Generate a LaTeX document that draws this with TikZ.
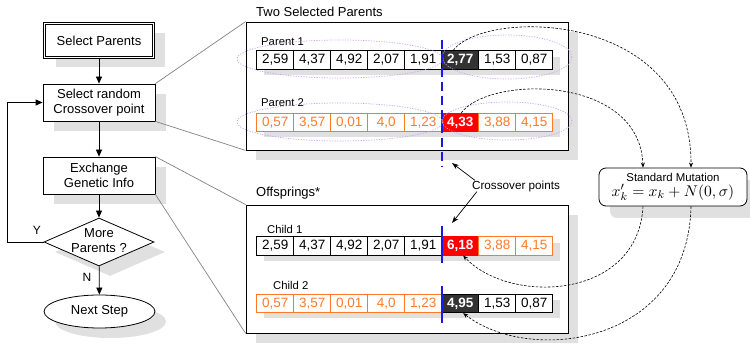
\documentclass[tikz,border=0pt]{standalone}
\usepackage[no-math]{fontspec}
\setmainfont{Liberation Sans}
\usetikzlibrary{shapes.geometric,shadows,arrows.meta,calc}

\definecolor{shgray}{RGB}{224,224,224}
\definecolor{orng}{RGB}{255,122,40}
\definecolor{dkcell}{RGB}{51,51,51}
\definecolor{ellc}{RGB}{200,160,245}
\definecolor{xblue}{RGB}{25,25,235}
\definecolor{lgray}{RGB}{130,130,130}

\tikzset{
  shd/.style={drop shadow={shadow xshift=11pt,shadow yshift=-10pt,fill=shgray,opacity=1}},
  fbox/.style={draw,line width=0.8pt,fill=white,minimum width=112pt,minimum height=37pt,
    inner sep=1pt,align=center,font=\fontsize{13}{15}\selectfont,shd},
  dbox/.style={fbox,double,double distance=1.4pt,line width=0.7pt,minimum width=109pt,minimum height=34pt},
  dia/.style={diamond,draw,line width=0.8pt,fill=white,minimum width=110pt,minimum height=48pt,inner sep=0pt,shd},
  term/.style={ellipse,draw,line width=0.8pt,fill=white,minimum width=111pt,minimum height=33pt,
    font=\fontsize{13}{15}\selectfont,shd},
  arr/.style={-{Triangle[length=7pt,width=6pt]},line width=0.8pt},
  txt/.style={inner sep=0pt,font=\fontsize{12}{14}\selectfont},
  title/.style={inner sep=0pt,anchor=west,font=\fontsize{13}{15}\selectfont},
  rowlab/.style={inner sep=0pt,anchor=west,font=\fontsize{11.3}{13}\selectfont},
  panel/.style={draw,line width=0.8pt,fill=white,minimum width=322pt,minimum height=128pt,
    drop shadow={shadow xshift=10pt,shadow yshift=-10pt,fill=shgray,opacity=1}},
  gline/.style={draw=lgray,line width=0.7pt},
  rowshadow/.style={fill=shgray},
  cell/.style={draw,line width=0.8pt,fill=white,minimum width=37pt,minimum height=18.5pt,
    inner sep=0pt,font=\fontsize{13.5}{15}\selectfont},
  cblk/.style={draw=black,text=black},
  corg/.style={draw=orng,text=orng},
  cdrk/.style={fill=dkcell,draw=black,text=white,font=\fontsize{13.5}{15}\selectfont\bfseries},
  cred/.style={fill=red,draw=red,text=white,font=\fontsize{13.5}{15}\selectfont\bfseries},
  ell/.style={draw=ellc,line width=0.7pt,dash pattern=on 1.2pt off 1.4pt},
  xdash/.style={draw=xblue,line width=1.6pt,dash pattern=on 9pt off 5pt},
  xline/.style={draw=xblue,line width=1.6pt},
  mutbox/.style={draw,line width=0.8pt,fill=white,rounded corners=7pt,minimum width=148pt,
    minimum height=38pt,align=center,inner sep=1pt,font=\fontsize{11.4}{13}\selectfont,
    drop shadow={shadow xshift=11pt,shadow yshift=-12pt,fill=shgray,opacity=1}},
  mutarr/.style={line width=0.6pt,dash pattern=on 2.5pt off 1.5pt,-{Stealth[length=5pt,width=4pt]}},
  xarr/.style={line width=0.7pt,-{Stealth[length=7pt,width=5pt]}}
}

% one row of eight genes: name prefix, vertical centre, value/style list
\newcommand\generow[3]{%
  \foreach \v/\s [count=\i] in {#3}{%
    \node[cell,\s] (#1\i) at ({256.7+37*\i-18.5},#2) {\v};}}

\begin{document}
\begin{tikzpicture}[x=1pt,y=-1pt]
\useasboundingbox (0,0) rectangle (750,344);

% ---------------- flowchart ----------------
\node[dbox] (sp) at (99,40.5) {Select Parents};
\node[fbox] (sr) at (99,102.5) {Select random\\Crossover point};
\node[fbox] (ex) at (99,175.5) {Exchange\\Genetic Info};
\node[dia]  (dm) at (99,242) {};
\node[align=center,inner sep=0pt,font=\fontsize{13}{15}\selectfont] (dmt) at (99,241) {More\\Parents ?};
\node[term] (ns) at (99.5,311.5) {Next Step};

\draw[arr] (sp) -- (sr);
\draw[arr] (sr) -- (ex);
\draw[arr] (ex) -- (dm);
\draw[arr] (dm) -- (ns);
\coordinate (lp) at (7,242);
\draw[arr] (dm.west) -- (lp) |- (sr.west);
\node[txt] (ylab) at (37,230) {Y};
\node[txt] (nlab) at (87,277) {N};

% ---------------- panels ----------------
\node[panel] (pp) at (407,86) {};
\node[panel] (po) at (407,269) {};
\node[title] (tp) at (256,12) {Two Selected Parents};
\node[title] (to) at (256,193) {Offsprings*};

\draw[gline] (sr.north east) -- (pp.north west);
\draw[gline] (sr.south east) -- (pp.south west);
\draw[gline] (ex.north east) -- (po.north west);
\draw[gline] (ex.south east) -- (po.south west);

% row shadows
\fill[rowshadow] (263.7,57) rectangle (559.7,75.5);
\fill[rowshadow] (263.7,119) rectangle (559.7,137.5);
\fill[rowshadow] (263.7,243) rectangle (559.7,261.5);
\fill[rowshadow] (263.7,300) rectangle (559.7,318.5);

\node[rowlab] (l1) at (261,42) {Parent 1};
\node[rowlab] (l2) at (261,103) {Parent 2};
\node[rowlab] (l3) at (267,229) {Child 1};
\node[rowlab] (l4) at (273,285) {Child 2};

\generow{pa}{60}{2{,}59/cblk,4{,}37/cblk,4{,}92/cblk,2{,}07/cblk,1{,}91/cblk,2{,}77/cdrk,1{,}53/cblk,0{,}87/cblk}
\generow{pb}{122.5}{0{,}57/corg,3{,}57/corg,0{,}01/corg,4{,}0/corg,1{,}23/corg,4{,}33/cred,3{,}88/corg,4{,}15/corg}
\generow{ca}{246}{2{,}59/cblk,4{,}37/cblk,4{,}92/cblk,2{,}07/cblk,1{,}91/cblk,6{,}18/cred,3{,}88/corg,4{,}15/corg}
\generow{cb}{303.5}{0{,}57/corg,3{,}57/corg,0{,}01/corg,4{,}0/corg,1{,}23/corg,4{,}95/cdrk,1{,}53/cblk,0{,}87/cblk}

% gene groups around the crossover point
\draw[ell] (340,59) ellipse [x radius=103pt,y radius=19pt];
\draw[ell] (507,57) ellipse [x radius=65pt,y radius=22pt];
\draw[ell] (340,122) ellipse [x radius=103pt,y radius=19pt];
\draw[ell] (507,121) ellipse [x radius=65pt,y radius=19pt];

% crossover points
\coordinate (xt) at (442,40);
\coordinate (xbt) at (442,167);
\draw[xdash] (xt) -- (xbt);
\coordinate (c1t) at (442,226);
\coordinate (c1b) at (442,263);
\coordinate (c2t) at (442,286);
\coordinate (c2b) at (442,323);
\draw[xline] (c1t) -- (c1b);
\draw[xline] (c2t) -- (c2b);

\node[inner sep=1pt,font=\fontsize{11.7}{13}\selectfont] (cp) at (516,186) {Crossover points};
\coordinate (xa) at (452,163);
\coordinate (xb) at (452,223);
\draw[xarr] ($(cp.north west)+(4,1)$) -- (xa);
\draw[xarr] ($(cp.south west)+(6,-1)$) -- (xb);

% ---------------- mutation ----------------
\node[mutbox] (mut) at (673,187) {Standard Mutation\\[2pt]\scalebox{1.42}{$x'_k=x_k+N(0,\sigma)$}};

\draw[mutarr] ($(pa6.north)+(-7,0)$) .. controls (485,8) and (692,10) .. ($(mut.north)+(18,0)$);
\draw[mutarr] ($(pb6.north)+(1,0)$) .. controls (490,75) and (640,75) .. ($(mut.north)+(-30,0)$);
\draw[mutarr] ($(mut.south)+(-30,0)$) .. controls (638,300) and (510,305) .. ($(ca6.south)+(3,0)$);
\draw[mutarr] ($(mut.south)+(18,0)$) .. controls (688,345) and (530,365) .. ($(cb6.south)+(3,0)$);
\end{tikzpicture}
\end{document}
